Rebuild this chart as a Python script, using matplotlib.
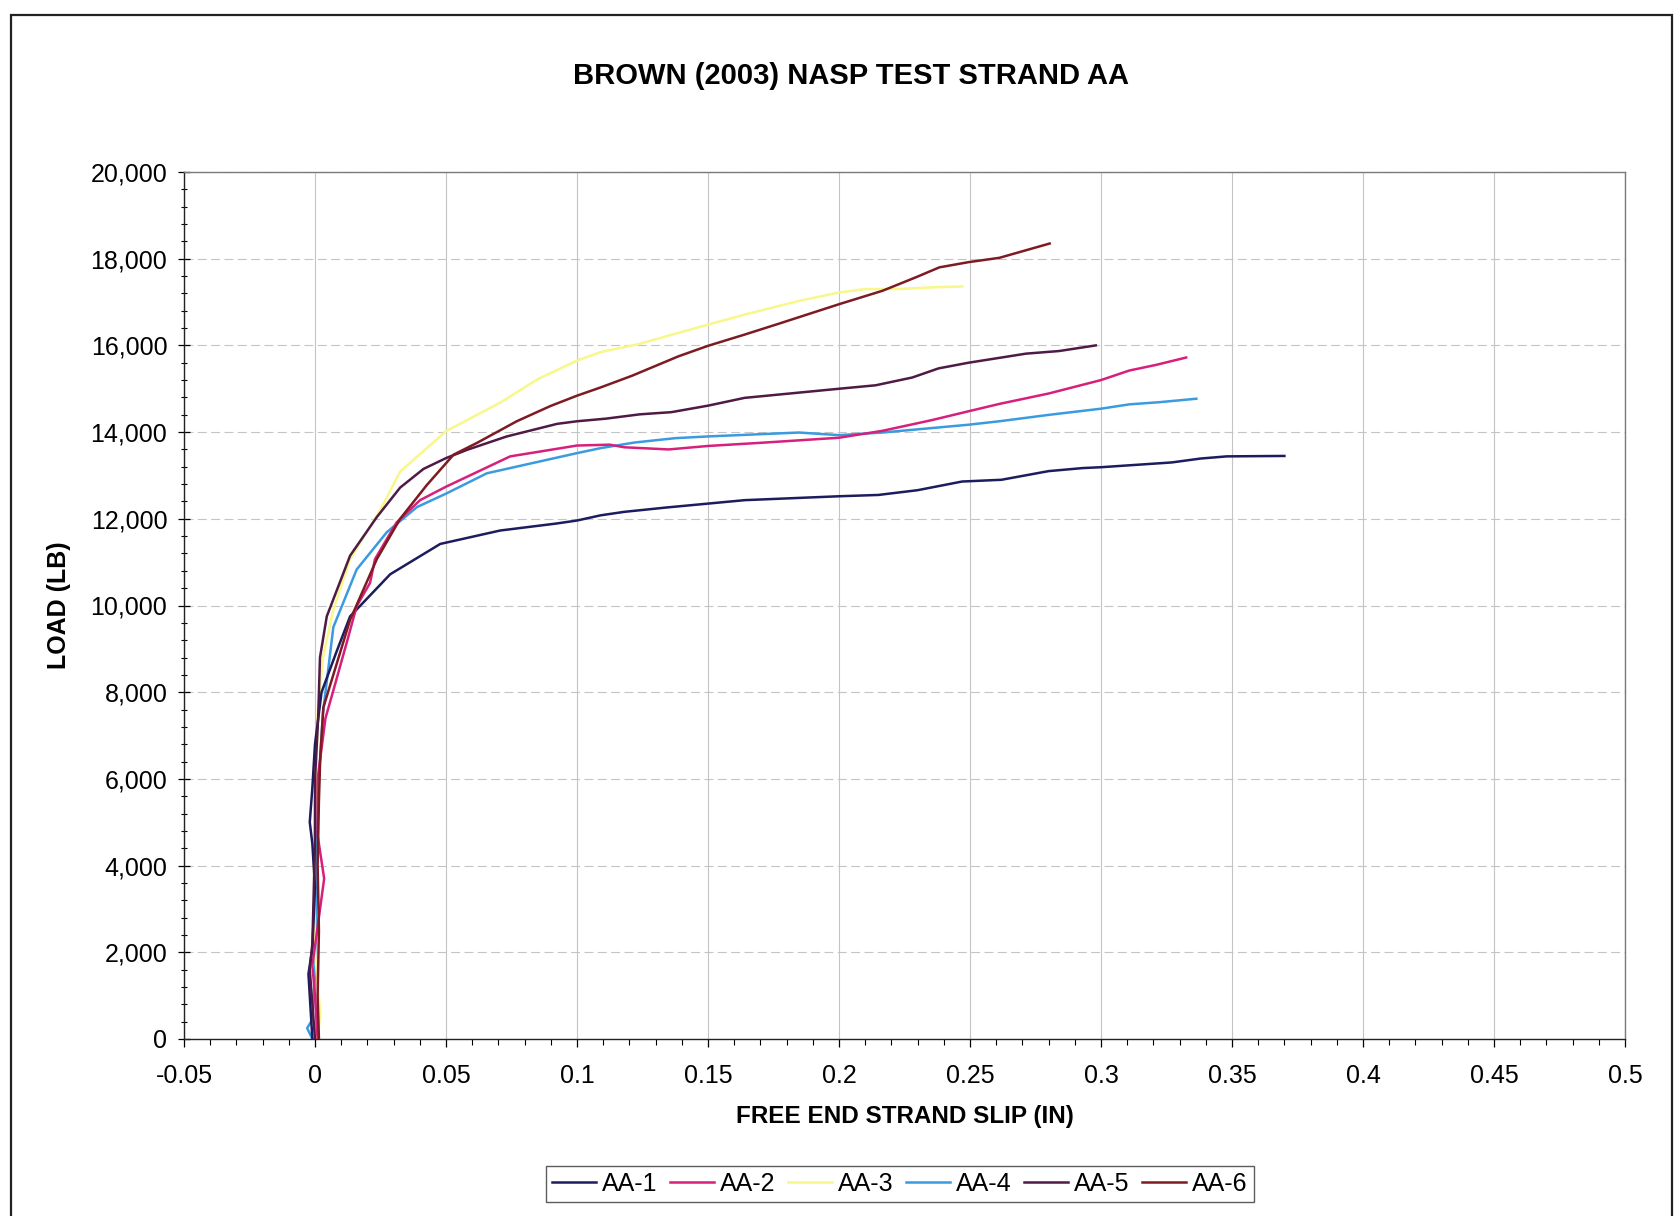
import matplotlib
matplotlib.use("Agg")
import matplotlib.pyplot as plt
from matplotlib.ticker import MultipleLocator, FuncFormatter
from matplotlib.patches import Rectangle

plt.rcParams['font.family'] = ['Liberation Sans', 'DejaVu Sans']

# ---------------- data ----------------
series_names = ["AA-1", "AA-2", "AA-3", "AA-4", "AA-5", "AA-6"]

aa1_x = [-0.001, -0.0025, -0.001, 0.000, -0.001, -0.002, -0.001, 0.000, 0.0025, 0.008, 0.0134,
         0.0287, 0.0478, 0.0707, 0.092, 0.100, 0.109, 0.118, 0.134, 0.164, 0.200, 0.215, 0.230,
         0.247, 0.262, 0.280, 0.293, 0.300, 0.327, 0.338, 0.348, 0.370]
aa1_y = [0, 1500, 2100, 3500, 4500, 5000, 5800, 6800, 8000, 8900, 9750,
         10720, 11420, 11730, 11890, 11960, 12080, 12160, 12260, 12430, 12520, 12550, 12660,
         12860, 12900, 13100, 13170, 13190, 13300, 13390, 13440, 13450]

aa2_x = [0.001, 0.000, -0.001, 0.0035, 0.001, 0.001, 0.004, 0.007, 0.0126, 0.0159, 0.021,
         0.0229, 0.0312, 0.0401, 0.050, 0.0745, 0.100, 0.1125, 0.118, 0.135, 0.150, 0.172,
         0.200, 0.2166, 0.2357, 0.2494, 0.2612, 0.280, 0.300, 0.3108, 0.321, 0.3325]
aa2_y = [0, 1000, 1700, 3700, 4700, 6000, 7400, 8040, 9250, 9985, 10520,
         11070, 11920, 12430, 12740, 13440, 13690, 13710, 13650, 13600, 13680, 13760,
         13870, 14030, 14280, 14480, 14650, 14890, 15200, 15420, 15550, 15720]

aa3_x = [0.001, 0.002, 0.000, -0.0005, 0.0005, 0.001, 0.003, 0.007, 0.0134, 0.0248, 0.0325,
         0.050, 0.0707, 0.085, 0.100, 0.109, 0.1235, 0.150, 0.164, 0.185, 0.200, 0.210, 0.223,
         0.236, 0.247]
aa3_y = [0, 600, 2000, 4400, 6000, 7500, 8800, 9900, 11070, 12190, 13090,
         14020, 14680, 15220, 15650, 15845, 16030, 16480, 16710, 17030, 17220, 17300, 17300,
         17340, 17360]

aa4_x = [-0.001, -0.003, -0.001, 0.000, 0.0005, 0.0015, 0.003, 0.007, 0.0159, 0.0274, 0.0389,
         0.050, 0.0656, 0.100, 0.109, 0.122, 0.1375, 0.150, 0.1847, 0.200, 0.2166, 0.2494,
         0.2612, 0.2804, 0.300, 0.3108, 0.3223, 0.3364]
aa4_y = [0, 250, 450, 1500, 4000, 6000, 7500, 9500, 10830, 11690, 12270,
         12580, 13050, 13515, 13630, 13760, 13860, 13900, 13990, 13930, 13990, 14170,
         14250, 14400, 14540, 14640, 14690, 14770]

aa5_x = [0.000, -0.001, -0.002, -0.001, 0.000, 0.000, 0.0012, 0.0019, 0.0045, 0.0134, 0.0236,
         0.0325, 0.0414, 0.050, 0.058, 0.0732, 0.0924, 0.100, 0.111, 0.124, 0.136, 0.150,
         0.164, 0.200, 0.214, 0.228, 0.238, 0.2494, 0.2714, 0.284, 0.298]
aa5_y = [0, 800, 1600, 2200, 4500, 6000, 7400, 8800, 9750, 11150, 12040,
         12720, 13150, 13400, 13590, 13900, 14190, 14250, 14310, 14410, 14460, 14610,
         14790, 15000, 15080, 15260, 15470, 15600, 15810, 15870, 16000]

aa6_x = [0.0015, 0.001, 0.0015, 0.001, 0.0015, 0.002, 0.0032, 0.0134, 0.0236, 0.0325, 0.0427,
         0.0529, 0.0618, 0.077, 0.0898, 0.100, 0.109, 0.121, 0.1388, 0.150, 0.164,
         0.177, 0.200, 0.2166, 0.2293, 0.2383, 0.2494, 0.2612, 0.2804]
aa6_y = [0, 1000, 2500, 4000, 5500, 6500, 7650, 9670, 11070, 12000, 12780,
         13480, 13750, 14250, 14600, 14840, 15030, 15300, 15750, 15990, 16250,
         16500, 16950, 17260, 17570, 17800, 17920, 18020, 18350]

series_x = [aa1_x, aa2_x, aa3_x, aa4_x, aa5_x, aa6_x]
series_y = [aa1_y, aa2_y, aa3_y, aa4_y, aa5_y, aa6_y]
colors = ["#1c1c5e", "#d6207c", "#f7f78a", "#3a9be0", "#4f1a45", "#7d1a22"]
draw_order = [2, 3, 1, 0, 4, 5]  # yellow underneath, dark lines on top

title = "BROWN (2003) NASP TEST STRAND AA"
xlabel = "FREE END STRAND SLIP (IN)"
ylabel = "LOAD (LB)"

# ---------------- figure ----------------
W, H = 1675, 1216
fig = plt.figure(figsize=(W / 100, H / 100), dpi=100)
fig.patch.set_facecolor("white")

# chart-area border
fig.patches.append(Rectangle((0.0065, -0.02), 0.992, 1.0075, transform=fig.transFigure,
                             fill=False, edgecolor="#222222", linewidth=1.6, zorder=0))

left, right = 184 / W, 1625 / W
top, bottom = 1 - 172 / H, 1 - 1039 / H
ax = fig.add_axes([left, bottom, right - left, top - bottom])

for i, (xs, ys, c, name) in enumerate(zip(series_x, series_y, colors, series_names)):
    ax.plot(xs, ys, color=c, linewidth=1.8, label=name, zorder=3 + draw_order[i] * 0.1)

ax.set_xlim(-0.05, 0.5)
ax.set_ylim(0, 20000)

ax.xaxis.set_major_locator(MultipleLocator(0.05))
ax.xaxis.set_minor_locator(MultipleLocator(0.01))
ax.yaxis.set_major_locator(MultipleLocator(2000))
ax.yaxis.set_minor_locator(MultipleLocator(400))


def xfmt(v, pos):
    v = round(v, 4)
    if abs(v) < 1e-9:
        return "0"
    return f"{v:g}"


ax.xaxis.set_major_formatter(FuncFormatter(xfmt))
ax.yaxis.set_major_formatter(FuncFormatter(lambda v, p: f"{int(round(v)):,}"))

ax.grid(True, which="major", axis="x", color="#c4c4c4", linewidth=0.8, linestyle="-", zorder=0)
ax.grid(True, which="major", axis="y", color="#c4c4c4", linewidth=0.8, linestyle=(0, (8, 4)), zorder=0)

for s in ["left", "bottom"]:
    ax.spines[s].set_color("#222222")
    ax.spines[s].set_linewidth(1.0)
for s in ["top", "right"]:
    ax.spines[s].set_color("#7a7a7a")
    ax.spines[s].set_linewidth(1.0)

ax.tick_params(axis="y", which="major", direction="inout", length=8, width=0.9, labelsize=18, pad=8)
ax.tick_params(axis="y", which="minor", direction="inout", length=4, width=0.8)
ax.tick_params(axis="x", which="major", direction="out", length=6, width=0.9, labelsize=18, pad=12)
ax.tick_params(axis="x", which="minor", direction="out", length=4, width=0.8)

ax.set_xlabel(xlabel, fontsize=17.5, fontweight="bold", labelpad=12)
ax.set_ylabel(ylabel, fontsize=18, fontweight="bold", labelpad=14)

fig.text(851 / W, 1 - 76 / H, title, ha="center", va="center", fontsize=21, fontweight="bold")

leg = fig.legend(loc="center", bbox_to_anchor=(900 / W, 1 - 1184 / H), ncol=6,
                 fontsize=18, frameon=True, fancybox=False, handlelength=1.75,
                 handletextpad=0.25, columnspacing=0.5, borderpad=0.25)
leg.get_frame().set_edgecolor("#333333")
leg.get_frame().set_linewidth(1.0)

fig.savefig("out.png", dpi=100, facecolor="white")
